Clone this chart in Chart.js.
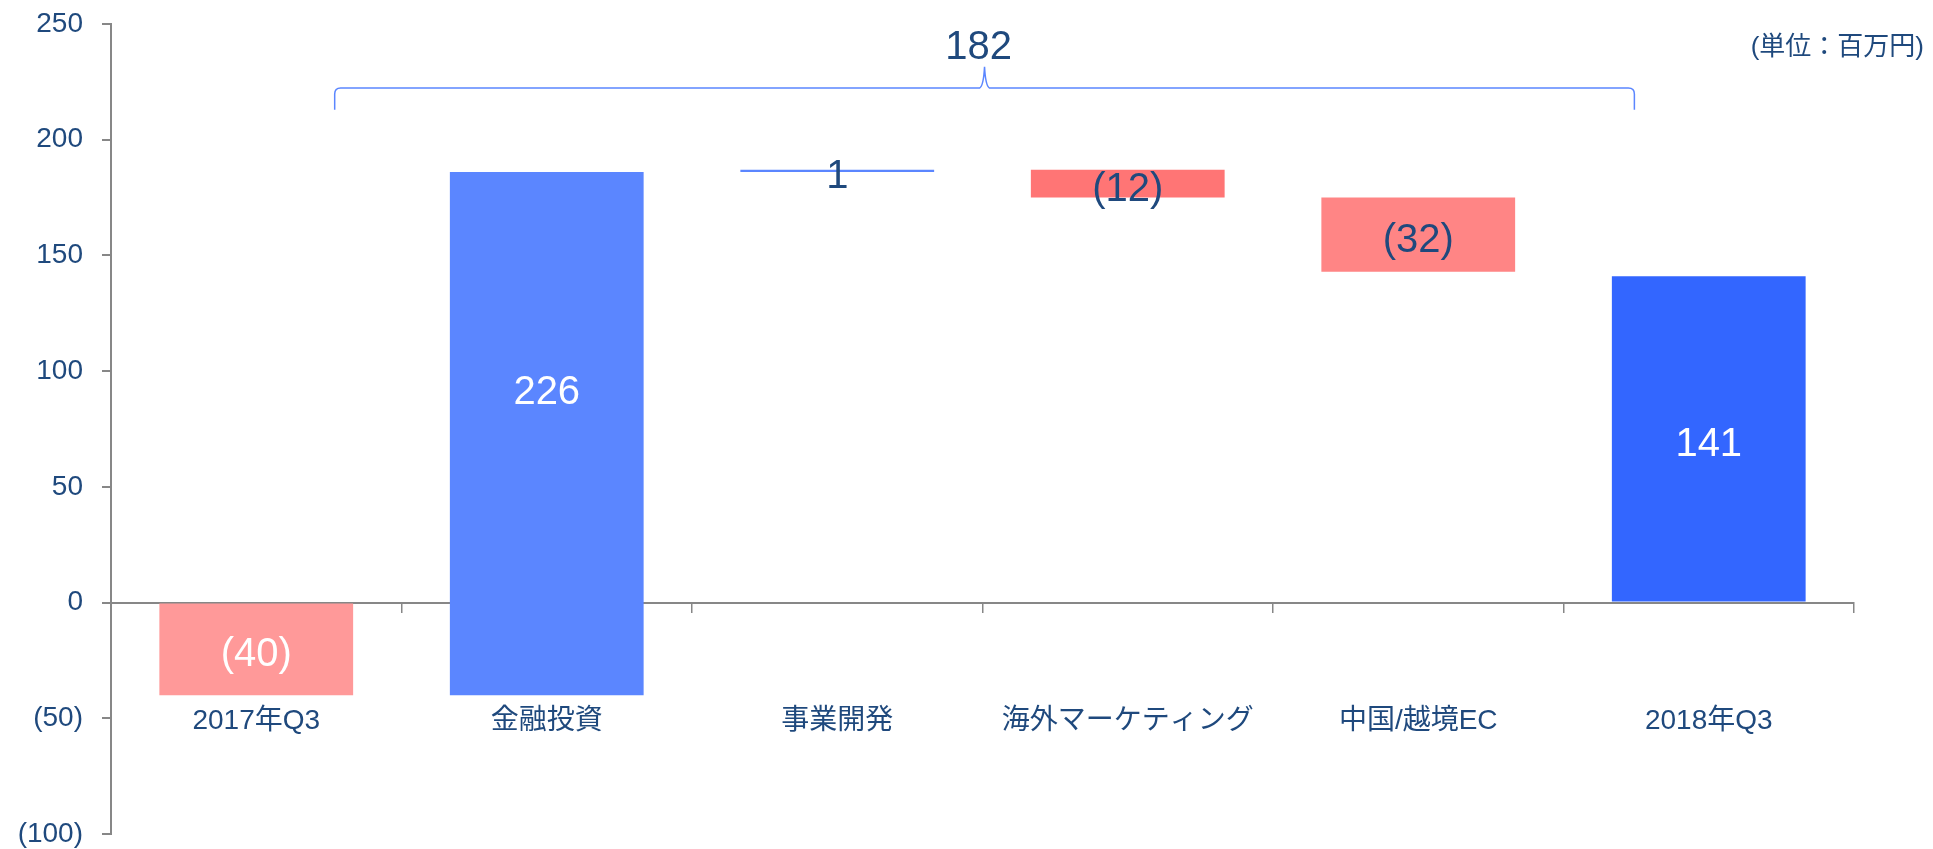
<!DOCTYPE html>
<html lang="ja">
<head>
<meta charset="utf-8">
<title>営業損益の増減</title>
<script src="https://cdn.jsdelivr.net/npm/chart.js@4"></script>
<style>
  html, body { margin: 0; padding: 0; background: #fff; }
  #wrap { position: relative; width: 1933px; height: 849px; }
</style>
</head>
<body>
<div id="wrap"><canvas id="bridgeChart"></canvas></div>
<script>
// 区分ごとの増減（百万円）
const categories = ['2017年Q3', '金融投資', '事業開発', '海外マーケティング', '中国/越境EC', '2018年Q3'];
const startValue = -40;
const stepValues = [226, 1, -12, -32];
const endValue = 141;
const totalChange = 182;
const unitLabel = '(単位：百万円)';

const yMin = -100;
const yMax = 250;
const yStep = 50;

const barColors = ['#FF9999', '#5B86FF', '#5B86FF', '#FF7575', '#FF8585', '#3366FF'];
const labelColors = ['#FFFFFF', '#FFFFFF', '#1F497D', '#1F497D', '#1F497D', '#FFFFFF'];

const textColor = '#1F497D';
const axisColor = '#878787';
const bracketColor = '#5B86FF';
const fontFamily = '"Liberation Sans", "Noto Sans CJK JP", sans-serif';

// 積み上げ区間を作る（開始値 → 各増減 → 終了値）
const ranges = [[0, startValue]];
let running = startValue;
stepValues.forEach(v => {
    ranges.push([running, running + v]);
    running += v;
});
ranges.push([0, endValue]);

// マイナスは括弧書き
const fmt = v => v < 0 ? '(' + (-v) + ')' : String(v);
const labelValues = [startValue, ...stepValues, endValue];

// 棒の中に数値を描く
const valueLabels = {
    id: 'valueLabels',
    afterDatasetsDraw(chart) {
        const { ctx } = chart;
        const yScale = chart.scales.y;
        const bars = chart.getDatasetMeta(0).data;
        ctx.save();
        ctx.font = '40px ' + fontFamily;
        ctx.textAlign = 'center';
        ctx.textBaseline = 'middle';
        bars.forEach((bar, i) => {
            const lo = Math.min(ranges[i][0], ranges[i][1]);
            const hi = Math.max(ranges[i][0], ranges[i][1]);
            // ゼロをまたぐ棒はプラス側の中央に置く
            const mid = (lo < 0 && hi > 0) ? hi / 2 : (lo + hi) / 2;
            ctx.fillStyle = labelColors[i];
            ctx.fillText(fmt(labelValues[i]), bar.x, yScale.getPixelForValue(mid) + 6);
        });
        ctx.restore();
    }
};

// 全体の増減を示す中括弧と単位
const bracketNote = {
    id: 'bracketNote',
    afterDraw(chart) {
        const { ctx } = chart;
        const xScale = chart.scales.x;
        const yScale = chart.scales.y;
        const cat = xScale.getPixelForValue(1) - xScale.getPixelForValue(0);
        const L = xScale.getPixelForValue(0) + cat * 0.27;
        const R = xScale.getPixelForValue(categories.length - 1) - cat * 0.256;
        const M = (L + R) / 2;
        const yb = yScale.getPixelForValue(213);
        const yh = yScale.getPixelForValue(222.3);
        const yp = yScale.getPixelForValue(231.5);

        ctx.save();
        ctx.strokeStyle = bracketColor;
        ctx.lineWidth = 1.5;
        ctx.beginPath();
        ctx.moveTo(L, yb);
        ctx.lineTo(L, yh + 6);
        ctx.quadraticCurveTo(L, yh, L + 6, yh);
        ctx.lineTo(M - 5, yh);
        ctx.quadraticCurveTo(M - 1, yh - 2, M, yp);
        ctx.quadraticCurveTo(M + 1, yh - 2, M + 5, yh);
        ctx.lineTo(R - 6, yh);
        ctx.quadraticCurveTo(R, yh, R, yh + 6);
        ctx.lineTo(R, yb);
        ctx.stroke();

        ctx.fillStyle = textColor;
        ctx.textBaseline = 'middle';
        ctx.textAlign = 'center';
        ctx.font = '40px ' + fontFamily;
        ctx.fillText(String(totalChange), M - 6, yScale.getPixelForValue(239.5));

        ctx.textAlign = 'right';
        ctx.font = '26px ' + fontFamily;
        ctx.fillText(unitLabel, chart.width - 9, yScale.getPixelForValue(239.5));
        ctx.restore();
    }
};

new Chart(document.getElementById('bridgeChart'), {
    type: 'bar',
    data: {
        labels: categories,
        datasets: [{
            data: ranges,
            backgroundColor: barColors,
            borderWidth: 0,
            barPercentage: 0.667,
            categoryPercentage: 1
        }]
    },
    options: {
        responsive: true,
        maintainAspectRatio: false,
        animation: false,
        layout: {
            padding: { left: 0, right: 79, top: 24, bottom: 15 }
        },
        plugins: {
            legend: { display: false },
            tooltip: { enabled: false }
        },
        scales: {
            x: {
                position: { y: 0 },
                z: 1,
                grid: {
                    drawOnChartArea: false,
                    tickLength: 9,
                    color: axisColor,
                    lineWidth: 1.5,
                    offset: true
                },
                border: { color: axisColor, width: 2 },
                ticks: {
                    color: textColor,
                    font: { family: fontFamily, size: 28 },
                    padding: 93,
                    maxRotation: 0,
                    autoSkip: false
                }
            },
            y: {
                min: yMin,
                max: yMax,
                afterFit(scale) {
                    scale.width = 111;
                    // 目盛ラベル分の上下余白は取らない
                    scale.paddingTop = 0;
                    scale.paddingBottom = 0;
                },
                grid: {
                    drawOnChartArea: false,
                    tickLength: 9,
                    color: axisColor,
                    lineWidth: 2
                },
                border: { color: axisColor, width: 2 },
                ticks: {
                    stepSize: yStep,
                    color: textColor,
                    font: { family: fontFamily, size: 28 },
                    padding: 19,
                    callback: fmt
                }
            }
        }
    },
    plugins: [valueLabels, bracketNote]
});
</script>
</body>
</html>
